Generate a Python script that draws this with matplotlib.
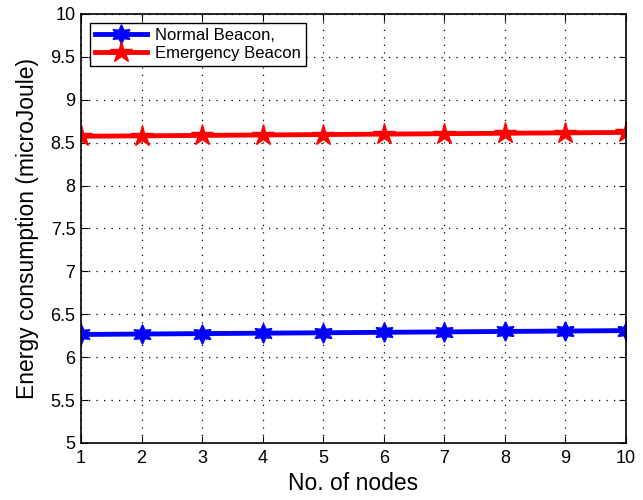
import matplotlib.pyplot as plt

plt.rcParams['font.family'] = ['Liberation Sans', 'DejaVu Sans']

nodes = [1, 2, 3, 4, 5, 6, 7, 8, 9, 10]
normal_beacon = [6.265, 6.27, 6.275, 6.28, 6.285, 6.29, 6.295, 6.30, 6.305, 6.31]
emergency_beacon = [8.575, 8.58, 8.585, 8.59, 8.595, 8.60, 8.605, 8.61, 8.615, 8.62]
yticks = [5, 5.5, 6, 6.5, 7, 7.5, 8, 8.5, 9, 9.5, 10]

fig = plt.figure(figsize=(6.43, 5.0), dpi=100)
ax = fig.add_axes([0.126, 0.114, 0.8476, 0.858])

ax.plot(nodes, normal_beacon, color='blue', linewidth=3.5,
        marker=(6, 1, 0), markersize=14, label='Normal Beacon,')
ax.plot(nodes, emergency_beacon, color='red', linewidth=3.5,
        marker='*', markersize=16, label='Emergency Beacon')

ax.set_xlim(1, 10)
ax.set_ylim(5, 10)
ax.set_xticks(nodes)
ax.set_yticks(yticks)
ax.set_yticklabels([f'{v:g}' for v in yticks])
ax.tick_params(direction='in', top=True, right=True, labelsize=13, length=5)
ax.tick_params(axis='x', pad=5)
ax.tick_params(axis='y', pad=4)
ax.grid(True, color='black', linestyle=(0, (1, 5)), linewidth=0.9)
for s in ax.spines.values():
    s.set_linewidth(1.2)

ax.set_xlabel('No. of nodes', fontsize=16.5, labelpad=4)
ax.set_ylabel('Energy consumption (microJoule)', fontsize=16.5, labelpad=8)

leg = ax.legend(loc='upper left', fontsize=12, fancybox=False, framealpha=1,
                edgecolor='black', borderaxespad=0.55, handlelength=3.1,
                borderpad=0.3, labelspacing=0.15, handletextpad=0.5)
leg.get_frame().set_linewidth(1.0)

fig.savefig('out.png', dpi=100)
